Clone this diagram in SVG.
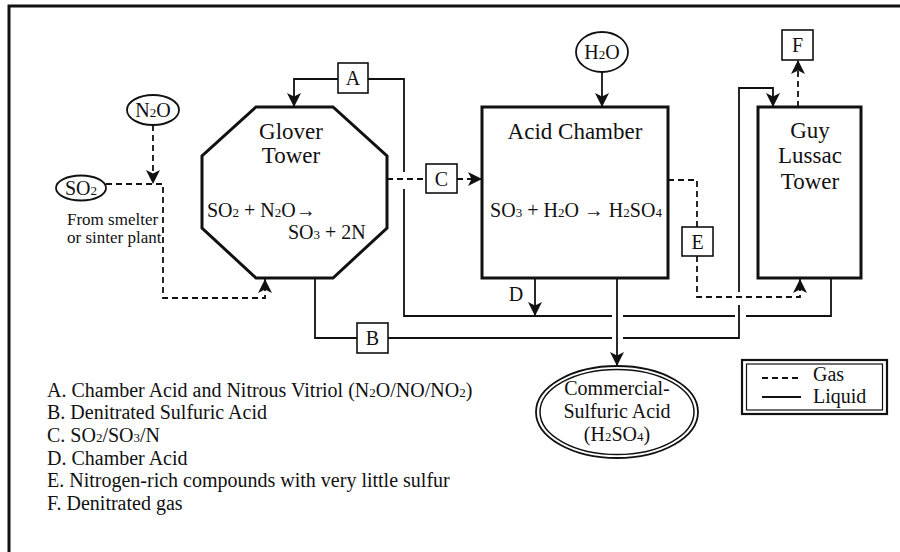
<svg xmlns="http://www.w3.org/2000/svg" width="900" height="552" viewBox="0 0 900 552">
<style>
text{font-family:"Liberation Serif","Times New Roman",serif;fill:#111}
.big{font-size:23px}
.med{font-size:20px}
.sm{font-size:17px}
.sub{font-size:13px}
.node{fill:none;stroke:#111;stroke-width:3}
.box{fill:#fff;stroke:#111;stroke-width:1.6}
.ell{fill:#fff;stroke:#111;stroke-width:1.8}
.liq{fill:none;stroke:#111;stroke-width:1.8}
.gas{fill:none;stroke:#111;stroke-width:1.8;stroke-dasharray:6 4}
</style>
<defs>
<marker id="ah" markerUnits="userSpaceOnUse" markerWidth="14" markerHeight="14" refX="12" refY="6" orient="auto" viewBox="0 0 12 12">
<path d="M0,0 L12,6 L0,12 L3,6 z" fill="#111"/>
</marker>
</defs>
<rect width="900" height="552" fill="#fff"/>
<path d="M9,560 V6 H910" fill="none" stroke="#111" stroke-width="3"/>

<g id="connectors">
<path class="gas" d="M106,184 H163 V298 H265 V279" marker-end="url(#ah)"/>
<path class="gas" d="M153,125 V184" marker-end="url(#ah)"/>
<path class="liq" d="M831,278 V316 H746 M735,316 H623 M612,316 H404 V189 M404,172 V79 H368"/>
<path class="liq" d="M338,79 H294 V107" marker-end="url(#ah)"/>
<path class="liq" d="M535,278 V316" marker-end="url(#ah)"/>
<path class="liq" d="M602,72 V107" marker-end="url(#ah)"/>
<path class="liq" d="M617,278 V366" marker-end="url(#ah)"/>
<path class="liq" d="M315,278 V338 H357 M388,338 H612 M623,338 H739 V305 M739,292 V88 H773 V107" marker-end="url(#ah)"/>
<path class="gas" d="M387,179 H426"/>
<path class="gas" d="M457,179 H482" marker-end="url(#ah)"/>
<path class="gas" d="M668,180 H697 V227 M697,256 V297 H800 V279" marker-end="url(#ah)"/>
<path class="gas" d="M798,107 V60" marker-end="url(#ah)"/>
<text class="med" x="516" y="301" text-anchor="middle">D</text>
</g>

<g id="so2">
<ellipse class="ell" cx="81" cy="188" rx="25" ry="12.5"/>
<text class="med" x="81" y="195" text-anchor="middle">SO<tspan class="sub">2</tspan></text>
<text class="sm" x="67" y="225">From smelter</text>
<text class="sm" x="67" y="243">or sinter plant</text>
</g>

<g id="n2o">
<ellipse class="ell" cx="153" cy="110" rx="26" ry="15"/>
<text class="med" x="153" y="117" text-anchor="middle">N<tspan class="sub">2</tspan>O</text>
</g>

<g id="glover">
<polygon class="node" points="256,107 333,107 387,156 387,228 333,278 256,278 202,228 202,156"/>
<text class="big" x="291" y="139" text-anchor="middle">Glover</text>
<text class="big" x="291" y="163" text-anchor="middle">Tower</text>
<text class="med" x="207" y="217">SO<tspan class="sub">2</tspan> + N<tspan class="sub">2</tspan>O→</text>
<text class="med" x="288" y="239">SO<tspan class="sub">3</tspan> + 2N</text>
</g>

<g id="boxA">
<rect class="box" x="338" y="63" width="30" height="30"/>
<text class="med" x="353" y="85" text-anchor="middle">A</text>
</g>
<g id="boxB">
<rect class="box" x="357" y="323" width="31" height="30"/>
<text class="med" x="372.5" y="345" text-anchor="middle">B</text>
</g>
<g id="boxC">
<rect class="box" x="426" y="164" width="31" height="29"/>
<text class="med" x="441.5" y="186" text-anchor="middle">C</text>
</g>
<g id="boxE">
<rect class="box" x="682" y="227" width="31" height="29"/>
<text class="med" x="697.5" y="249" text-anchor="middle">E</text>
</g>
<g id="boxF">
<rect class="box" x="782" y="30" width="31" height="30"/>
<text class="med" x="797.5" y="52" text-anchor="middle">F</text>
</g>

<g id="h2o">
<ellipse class="ell" cx="602" cy="52" rx="26" ry="20"/>
<text class="med" x="602" y="59" text-anchor="middle">H<tspan class="sub">2</tspan>O</text>
</g>

<g id="acid-chamber">
<rect class="node" x="482" y="107" width="186" height="171"/>
<text class="big" x="575" y="139" text-anchor="middle">Acid Chamber</text>
<text class="med" x="576" y="217" text-anchor="middle">SO<tspan class="sub">3</tspan> + H<tspan class="sub">2</tspan>O → H<tspan class="sub">2</tspan>SO<tspan class="sub">4</tspan></text>
</g>

<g id="guy-lussac">
<rect class="node" x="758" y="107" width="103" height="171"/>
<text class="big" x="810" y="138" text-anchor="middle">Guy</text>
<text class="big" x="810" y="163" text-anchor="middle">Lussac</text>
<text class="big" x="810" y="189" text-anchor="middle">Tower</text>
</g>

<g id="product">
<ellipse cx="617" cy="412" rx="81" ry="46" fill="#fff" stroke="#111" stroke-width="1.8"/>
<ellipse cx="617" cy="412" rx="77" ry="42.5" fill="none" stroke="#111" stroke-width="1.5"/>
<text class="med" x="617" y="395" text-anchor="middle">Commercial-</text>
<text class="med" x="617" y="418" text-anchor="middle">Sulfuric Acid</text>
<text class="med" x="617" y="441" text-anchor="middle">(H<tspan class="sub">2</tspan>SO<tspan class="sub">4</tspan>)</text>
</g>

<g id="legend">
<rect x="742" y="360" width="145" height="54" fill="#fff" stroke="#111" stroke-width="2.2"/>
<rect x="746.5" y="364" width="136" height="46" fill="none" stroke="#111" stroke-width="1.2"/>
<path class="gas" d="M762,378 H801" stroke-dasharray="7 3"/>
<path class="liq" d="M762,397 H801"/>
<text class="med" x="813" y="381">Gas</text>
<text class="med" x="813" y="403">Liquid</text>
</g>

<g id="key">
<text class="med" x="47" y="397">A. Chamber Acid and Nitrous Vitriol (N<tspan class="sub">2</tspan>O/NO/NO<tspan class="sub">2</tspan>)</text>
<text class="med" x="47" y="419">B. Denitrated Sulfuric Acid</text>
<text class="med" x="47" y="442">C. SO<tspan class="sub">2</tspan>/SO<tspan class="sub">3</tspan>/N</text>
<text class="med" x="47" y="465">D. Chamber Acid</text>
<text class="med" x="47" y="487">E. Nitrogen-rich compounds with very little sulfur</text>
<text class="med" x="47" y="510">F. Denitrated gas</text>
</g>
</svg>
